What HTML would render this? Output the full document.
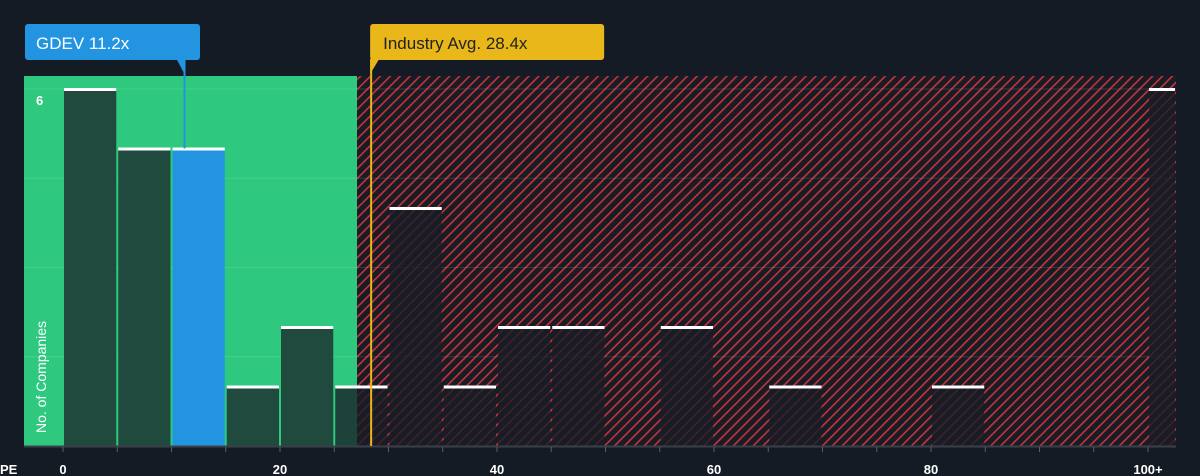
<!DOCTYPE html>
<html><head><meta charset="utf-8"><style>
html,body{margin:0;padding:0;background:#151b24;}
svg{display:block;font-family:"Liberation Sans",Roboto,sans-serif;}
</style></head><body>
<svg id="chart" width="1200" height="476">
<defs>
<pattern id="hatch" patternUnits="userSpaceOnUse" width="7" height="7" patternTransform="rotate(45)">
<rect width="7" height="7" fill="#181c25"/>
<rect x="0" y="0" width="1.6" height="7" fill="#c7333b"/>
</pattern>
</defs>
<g id="bg"></g>
<g id="bars"></g>
<g id="axis"></g>
<g id="ann"></g>
</svg>
<script>
const binStarts=[0,5,10,15,20,25,30,35,40,45,55,65,80,100];
const counts=[6,5,5,1,2,1,4,1,2,2,2,1,1,6];
const xTicks=[0,20,40,60,80,100];
const xTickLabels=["0","20","40","60","80","100+"];
const companyPE=11.2, companyLabel="GDEV 11.2x";
const industryPE=28.4, industryLabel="Industry Avg. 28.4x";
const fairLimit=27.1;
const yMax=6;
const NS="http://www.w3.org/2000/svg";
const X=v=>63+v*10.85;
const Y=v=>446-v*(357/yMax);
function mk(tag,attrs,parent){const e=document.createElementNS(NS,tag);for(const k in attrs)e.setAttribute(k,attrs[k]);parent.appendChild(e);return e;}
const bg=document.getElementById('bg'),bars=document.getElementById('bars'),axis=document.getElementById('axis'),ann=document.getElementById('ann');
let r=mk('rect',{x:24,y:76,width:X(fairLimit)-24,height:370,fill:'#2ec97f'},bg);


r=mk('rect',{x:X(fairLimit),y:76,width:1176-X(fairLimit),height:370,fill:'url(#hatch)'},bg);


[1.5,3,4.5,6].forEach(v=>{const l=mk('line',{x1:24,x2:1176,y1:Y(v),y2:Y(v),stroke:'rgba(255,255,255,0.12)','stroke-width':1},bg);

});
binStarts.forEach((b,i)=>{
  const x0=X(b)+1, w=Math.min(X(b+5),1176)-X(b)-2;
  const isCo=companyPE>=b&&companyPE<b+5;
  const inGreen=b+5<=fairLimit+0.5;
  const fill=isCo?'#2394e0':(inGreen?'#1f4a3d':'rgba(24,28,37,0.78)');
  const rr=mk('rect',{x:x0,y:Y(counts[i]),width:w,height:446-Y(counts[i]),fill:fill},bars);
  
  
  const cap=mk('rect',{x:x0,y:Y(counts[i])-1,width:w,height:3,fill:'#ffffff'},bars);
  
  
});
let t=mk('text',{x:36,y:105,fill:'#fff','font-size':13,'font-weight':'bold'},axis);t.textContent='6';


t=mk('text',{x:0,y:0,fill:'#fff','font-size':14,transform:'translate(46,433) rotate(-90)'},axis);t.textContent='No. of Companies';


let al=mk('line',{x1:24,x2:1176,y1:446.5,y2:446.5,stroke:'#3a404a','stroke-width':2},axis);


for(let v=0;v<=100;v+=5){const tk=mk('line',{x1:X(v),x2:X(v),y1:447,y2:452,stroke:'#5a606a','stroke-width':1},axis);

}
xTicks.forEach((v,i)=>{const tt=mk('text',{x:X(v),y:474,fill:'#fff','font-size':13,'font-weight':'bold','text-anchor':'middle'},axis);tt.textContent=xTickLabels[i];

});
t=mk('text',{x:0,y:474,fill:'#fff','font-size':13,'font-weight':'bold'},axis);t.textContent='PE';


const cx=X(companyPE);
let ln=mk('line',{x1:cx,x2:cx,y1:60,y2:Y(5),stroke:'#2394e0','stroke-width':2},ann);


let g=mk('g',{},ann);


mk('rect',{x:25,y:24,width:175,height:36,rx:3,fill:'#2394e0'},g);
mk('path',{d:`M${cx-8} 59 L${cx} 59 L${cx} 74 Z`,fill:'#2394e0'},g);
t=mk('text',{x:36,y:49,fill:'#fff','font-size':17},g);t.textContent=companyLabel;
const ix=X(industryPE);
ln=mk('line',{x1:ix,x2:ix,y1:60,y2:446,stroke:'#eab71a','stroke-width':2},ann);


g=mk('g',{},ann);


mk('rect',{x:ix-1,y:24,width:234,height:36,rx:3,fill:'#eab71a'},g);
mk('path',{d:`M${ix-1} 59 L${ix+8} 59 L${ix-1} 74 Z`,fill:'#eab71a'},g);
t=mk('text',{x:ix+12,y:49,fill:'#222','font-size':17},g);t.textContent=industryLabel;
</script>
</body></html>
